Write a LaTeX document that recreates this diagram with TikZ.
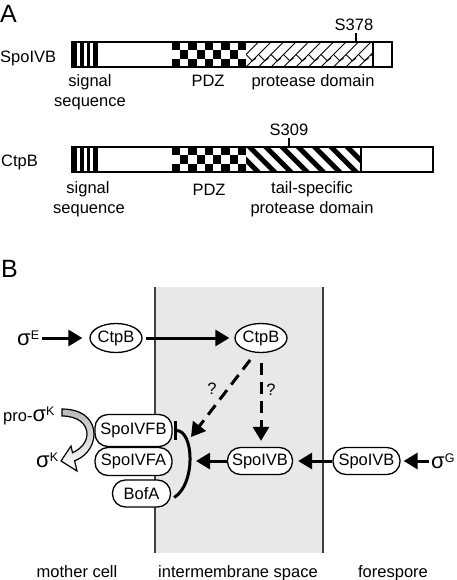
\documentclass[tikz,border=0pt]{standalone}
\usepackage{fontspec}
\setmainfont{Liberation Sans}
\usetikzlibrary{arrows.meta,shapes.geometric,calc}
\newcommand\sigm[1]{{\fontsize{22}{24}\selectfont σ}\raisebox{6pt}{\fontsize{12.5}{14}\selectfont #1}}
\begin{document}
\begin{tikzpicture}[x=1pt,y=-1pt,
  every node/.style={font=\fontsize{16.5}{20}\selectfont, inner sep=0pt},
  pbox/.style={draw, rectangle, rounded corners=13pt, fill=white, line width=1.3pt, minimum height=27pt},
  ell/.style={draw, ellipse, fill=white, line width=1.3pt, minimum width=52pt, minimum height=29pt},
  thk/.style={line width=3pt, -{Triangle[length=14pt,width=16pt]}},
  dsh/.style={thk, dash pattern=on 12pt off 7pt},
  outl/.style={line width=1.4pt}
]
\useasboundingbox (0,0) rectangle (457,580);

% ---------------- Panel A ----------------
\node[anchor=base west] (labA) at (0,23) {\fontsize{25}{28}\selectfont A};

% SpoIVB bar
\node[anchor=base west] (nIVB) at (0,63) {SpoIVB};
\foreach \a/\b in {72/77,80/84,86.5/90,93/98}{\fill (\a,42) rectangle (\b,67);}
\foreach \i in {0,...,8}{\foreach \j in {0,1,2}{
  \pgfmathtruncatemacro\p{mod(\i+\j,2)}
  \ifnum\p=0 \fill ({172+\i*8.222},{42+\j*8.333}) rectangle ++(8.222,8.333); \fi}}
\begin{scope}
  \clip (246,42) rectangle (373,67);
  \foreach \k in {-2,...,10}{
    \draw[line width=1pt] ({246+\k*12.5},67) -- ++(25,-25);
    \draw[line width=1pt] ({246+\k*12.5+12.5},54.5) -- ++(6,6);
    \draw[line width=1pt] ({246+\k*12.5+6},61) -- ++(4,-3);
  }
\end{scope}
\draw[outl] (72,42) rectangle (392,67);
\draw[outl] (373,42) -- (373,67);
\draw[outl] (356,42) -- (356,33);
\node[anchor=base] (s378) at (354,31) {S378};
\node[anchor=base] (sig1) at (90,87) {signal};
\node[anchor=base] (seq1) at (90,107) {sequence};
\node[anchor=base] (pdz1) at (208,87) {PDZ};
\node[anchor=base] (pd1) at (313,87) {protease domain};

% CtpB bar
\node[anchor=base west] (nCtpB) at (1,167) {CtpB};
\foreach \a/\b in {72/77,80/84,86.5/90,93/98}{\fill (\a,147) rectangle (\b,172);}
\foreach \i in {0,...,8}{\foreach \j in {0,1,2}{
  \pgfmathtruncatemacro\p{mod(\i+\j,2)}
  \ifnum\p=0 \fill ({172+\i*8.222},{147+\j*8.333}) rectangle ++(8.222,8.333); \fi}}
\begin{scope}
  \clip (246,147) rectangle (361,172);
  \foreach \k in {-2,...,7}{
    \fill ({246+\k*16.3},147) -- ++(7,0) -- ++(25,25) -- ++(-7,0) -- cycle;
  }
\end{scope}
\draw[outl] (72,147) rectangle (433,172);
\draw[outl] (361,147) -- (361,172);
\draw[outl] (289,147) -- (289,138);
\node[anchor=base] (s309) at (289,136) {S309};
\node[anchor=base] (sig2) at (88,193) {signal};
\node[anchor=base] (seq2) at (89,213) {sequence};
\node[anchor=base] (pdz2) at (209,195) {PDZ};
\node[anchor=base] (ts) at (312,193) {tail-specific};
\node[anchor=base] (pd2) at (312,213) {protease domain};

% ---------------- Panel B ----------------
\node[anchor=base west] (labB) at (1,277) {\fontsize{25}{28}\selectfont B};

\fill[black!9] (155,287) rectangle (323,553);
\draw[line width=1.5pt, black!75] (155,287) -- (155,553);
\draw[line width=1.5pt, black!75] (323,287) -- (323,553);

% pro-sigmaK processing arrow
\draw[line width=1.2pt, top color=gray!55, bottom color=white]
  (62,409) .. controls (84,409) and (94,421) .. (94,434)
  .. controls (94,447) and (85,457) .. (74.6,460.8)
  -- (77,471) -- (61,461) -- (71,446) -- (72.5,452.7)
  .. controls (81,449) and (87,442) .. (87,434)
  .. controls (87,424) and (78,416) .. (62,416) -- cycle;

\node[ell] (ctpb1) at (116,338) {CtpB};
\node[ell] (ctpb2) at (261,338) {CtpB};
\node[pbox, minimum width=65pt] (ivbm) at (260,461) {SpoIVB};
\node[pbox, minimum width=67pt] (ivbr) at (366.5,461) {SpoIVB};
\node[pbox, minimum width=77pt, minimum height=32pt] (fb) at (133.5,430.5) {SpoIVFB};
\node[pbox, minimum width=77pt, minimum height=28pt] (fa) at (133.5,461.5) {SpoIVFA};
\node[pbox, minimum width=58pt] (bofa) at (141.5,493.5) {BofA};

\node[anchor=base west] (sE) at (17,345) {\sigm{E}};
\node[anchor=base west] (sG) at (431,468) {\sigm{G}};
\node[anchor=base west] (prosK) at (3,421) {pro-\sigm{K}};
\node[anchor=base west] (sK) at (36,467) {\sigm{K}};

\draw[thk, shorten <=3pt, shorten >=7pt] (sE.east |- ctpb1) -- (ctpb1.west);
\draw[thk, shorten <=3pt, shorten >=5pt] (ctpb1.east) -- (ctpb2.west);
\draw[dsh, shorten <=10pt, shorten >=6pt] (ctpb2.south) -- (ctpb2.south |- ivbm.north);
\coordinate (dtip) at (191,437);
\draw[dsh, shorten <=9pt] (ctpb2.250) -- (dtip);
\node (q1) at (212,389) {?};
\node (q2) at (271,390) {?};

\draw[thk, shorten <=2pt, shorten >=3pt] (sG.west |- ivbr) -- (ivbr.east);
\draw[thk, shorten >=5pt] (ivbr.west) -- (ivbm.east);
\coordinate (ltip) at (196,461);
\draw[thk] (ivbm.west) -- (ltip);

\draw[line width=3pt, -{Bar[width=19pt]}] ($(bofa.east)+(3,4)$) .. controls (196,484) and (194,430.5) .. ($(fb.east)+(1.5,0)$);

\node[anchor=base] (mc) at (77,577) {mother cell};
\node[anchor=base] (ims) at (238,577) {intermembrane space};
\node[anchor=base] (fs) at (393,577) {forespore};
\end{tikzpicture}
\end{document}
